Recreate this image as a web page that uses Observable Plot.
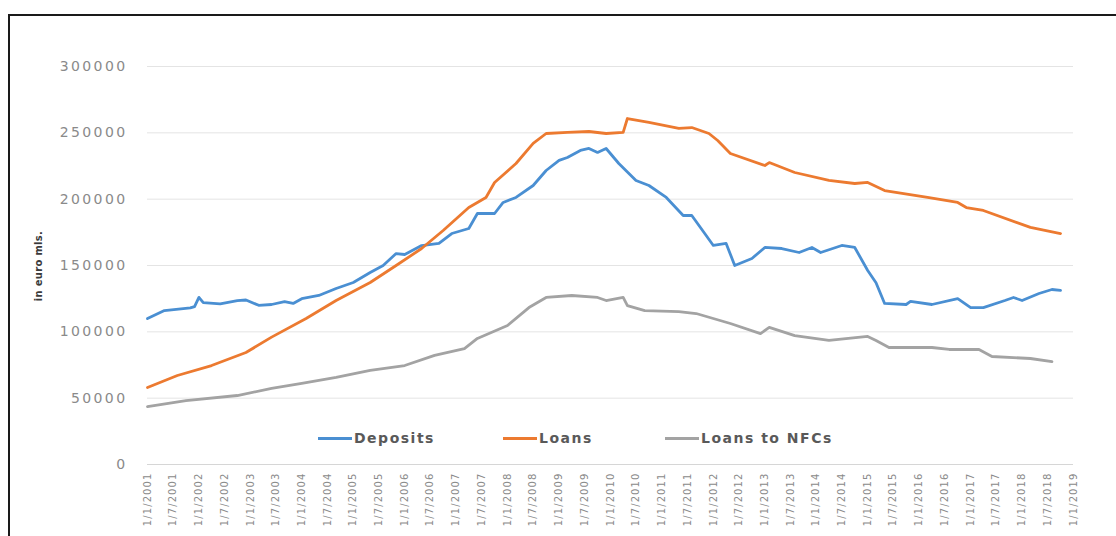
<!DOCTYPE html>
<html>
<head>
<meta charset="utf-8">
<script src="https://cdn.jsdelivr.net/npm/d3@7"></script>
<script src="https://cdn.jsdelivr.net/npm/@observablehq/plot@0.6"></script>
<style>
  html, body { margin: 0; padding: 0; background: #fff; width: 1116px; height: 536px; overflow: hidden; }
  #frame { position: absolute; left: 8px; top: 14px; width: 1200px; height: 600px; border: 2px solid #1a1a1a; }
  #chart { position: absolute; left: 0; top: 0; }
  #ylabel { position: absolute; left: 38px; top: 266px; transform: translate(-50%, -50%) rotate(-90deg);
            font: bold 10px "DejaVu Sans", sans-serif; color: #3a3a3a; white-space: nowrap; letter-spacing: 0.3px; }
  .leg { position: absolute; top: 438px; transform: translateY(-50%); display: flex; align-items: center;
         font: bold 14px "DejaVu Sans", sans-serif; color: #595959; letter-spacing: 1.5px; white-space: nowrap; }
  .leg span.sw { display: inline-block; width: 34px; height: 3px; margin-right: 2px; }
  g[aria-label="y-axis tick label"] text { letter-spacing: 2.4px; }
  g[aria-label="x-axis tick label"] text { letter-spacing: 1.1px; }
</style>
</head>
<body>
<div id="frame"></div>
<div id="chart"></div>
<div id="ylabel">in euro mls.</div>
<div id="legend"></div>
<script>
// ---- data ----
const seriesNames = ["Deposits", "Loans", "Loans to NFCs"];
const seriesColors = ["#4a8fd2", "#ec7a30", "#a3a3a3"];

const depositsDates = ["2001-01","2001-05","2001-11","2001-12","2002-01","2002-02","2002-06","2002-10","2002-12","2003-03","2003-06","2003-09","2003-11","2004-01","2004-05","2004-09","2005-01","2005-05","2005-08","2005-11","2006-01","2006-05","2006-09","2006-12","2007-04","2007-06","2007-10","2007-12","2008-03","2008-07","2008-10","2009-01","2009-03","2009-06","2009-08","2009-10","2009-12","2010-03","2010-07","2010-10","2011-02","2011-06","2011-08","2011-11","2012-01","2012-04","2012-06","2012-10","2013-01","2013-05","2013-09","2013-12","2014-02","2014-07","2014-10","2015-01","2015-03","2015-05","2015-10","2015-11","2016-04","2016-10","2017-01","2017-04","2017-09","2017-11","2018-01","2018-05","2018-08","2018-10"];
const depositsValues = [110000,116000,118000,119000,126000,122000,121000,123500,124000,120000,120600,122800,121400,125000,127400,132700,137200,144700,150000,159000,158300,165000,166600,174100,177900,189200,189200,197500,201300,210300,221600,229200,231400,236700,238200,235200,238200,226900,214100,210300,201300,187700,187700,174100,165100,166600,150000,155300,163600,162800,159800,163600,159800,165100,163600,146200,137000,121400,120600,122900,120600,125100,118300,118300,123600,125900,123600,128900,131900,131200];

const loansDates = ["2001-01","2001-08","2002-04","2002-12","2003-06","2004-02","2004-09","2005-05","2005-11","2006-05","2006-10","2007-04","2007-08","2007-10","2008-03","2008-07","2008-10","2009-03","2009-08","2009-12","2010-04","2010-05","2010-10","2011-05","2011-08","2011-12","2012-02","2012-05","2013-01","2013-02","2013-08","2014-04","2014-10","2015-01","2015-05","2016-03","2016-10","2016-12","2017-04","2018-03","2018-10"];
const loansValues = [58000,67100,74600,84400,96000,110000,123600,137200,150000,162800,176400,193700,201300,212600,226900,242000,249500,250300,251000,249500,250300,260800,257800,253300,254000,249500,244200,234400,225400,227600,220100,214100,211800,212600,206500,201300,197500,193700,191500,178700,174100];

const nfcDates = ["2001-01","2001-10","2002-10","2003-06","2004-01","2004-09","2005-05","2006-01","2006-08","2007-03","2007-06","2008-01","2008-06","2008-10","2009-04","2009-10","2009-12","2010-04","2010-05","2010-09","2011-05","2011-09","2012-05","2012-12","2013-02","2013-08","2014-04","2015-01","2015-03","2015-06","2016-04","2016-08","2017-03","2017-06","2018-03","2018-08"];
const nfcValues = [43700,48200,52000,57300,61100,65600,70900,74600,82200,87400,95000,104800,118300,125900,127400,125900,123600,125900,119800,116000,115300,113800,106300,98700,103300,97200,93500,96500,93500,88200,88200,86700,86700,81400,79900,77600];

const yTicks = [0, 50000, 100000, 150000, 200000, 250000, 300000];
const xStart = "2001-01";
const xEnd = "2019-01";

// ---- build table ----
const toDate = s => { const [y, m] = s.split("-").map(Number); return new Date(Date.UTC(y, m - 1, 1)); };
const rows = [];
[[depositsDates, depositsValues], [loansDates, loansValues], [nfcDates, nfcValues]].forEach(([ds, vs], i) => {
  ds.forEach((d, j) => rows.push({series: seriesNames[i], date: toDate(d), value: vs[j]}));
});
const xTicks = d3.utcMonth.every(6).range(toDate(xStart), new Date(toDate(xEnd).getTime() + 1));
const fmtX = d => `1/${d.getUTCMonth() + 1}/${d.getUTCFullYear()}`;

const chart = Plot.plot({
  width: 1116,
  height: 536,
  marginTop: 66,
  marginBottom: 72,
  marginLeft: 147,
  marginRight: 43,
  style: {fontFamily: "'DejaVu Sans', sans-serif", background: "transparent", overflow: "visible"},
  x: {type: "utc", domain: [toDate(xStart), toDate(xEnd)]},
  y: {domain: [0, 300000]},
  color: {domain: seriesNames, range: seriesColors},
  marks: [
    Plot.gridY(yTicks, {stroke: "#e4e4e4", strokeOpacity: 1, strokeWidth: 1}),
    Plot.ruleY([0], {stroke: "#d6d6d6", strokeWidth: 1.2}),
    Plot.axisY(yTicks, {tickSize: 0, tickPadding: 20, fontSize: 14, fill: "#8a8a8a", tickFormat: d => String(d), label: null}),
    Plot.axisX(xTicks, {tickSize: 0, tickPadding: 8, tickRotate: -90, fontSize: 10, fill: "#8a8a8a", tickFormat: fmtX, label: null}),
    Plot.line(rows, {x: "date", y: "value", z: "series", stroke: "series", strokeWidth: 2.8, strokeLinejoin: "round"})
  ]
});
document.getElementById("chart").appendChild(chart);

// ---- legend (inside plot area, as in the reference) ----
const legendLeft = [318, 503, 665];
const legend = document.getElementById("legend");
seriesNames.forEach((name, i) => {
  const el = document.createElement("div");
  el.className = "leg";
  el.style.left = legendLeft[i] + "px";
  el.innerHTML = `<span class="sw" style="background:${seriesColors[i]}"></span><span>${name}</span>`;
  legend.appendChild(el);
});
</script>
</body>
</html>
